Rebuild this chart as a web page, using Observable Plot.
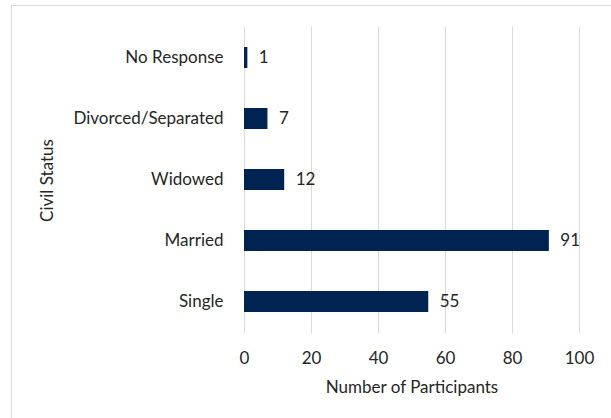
<!DOCTYPE html>
<html>
<head>
<meta charset="utf-8">
<script src="https://cdn.jsdelivr.net/npm/d3@7"></script>
<script src="https://cdn.jsdelivr.net/npm/@observablehq/plot@0.6"></script>
<style>
  html, body { margin: 0; padding: 0; background: #fff; }
  #wrap { position: relative; width: 611px; height: 418px; }
  #border { position: absolute; left: 11px; top: 5px; width: 620px; height: 430px; border-left: 1px solid #d9d9d9; border-top: 1px solid #d9d9d9; box-sizing: border-box; }
  #wrap svg { position: absolute; left: 0; top: 0; }
</style>
</head>
<body>
<div id="wrap"><div id="border"></div></div>
<script>
const categories = ["No Response", "Divorced/Separated", "Widowed", "Married", "Single"];
const counts = [1, 7, 12, 91, 55];
const xTicks = [0, 20, 40, 60, 80, 100];
const xTitle = "Number of Participants";
const yTitle = "Civil Status";

const data = categories.map((c, i) => ({status: c, count: counts[i]}));
const font = "Lato, 'Open Sans', sans-serif";
const textColor = "#262626";
const fs = 17;

const chart = Plot.plot({
  width: 611,
  height: 418,
  marginLeft: 244,
  marginRight: 32,
  marginTop: 27,
  marginBottom: 85,
  style: {fontFamily: font, fontSize: fs + "px", color: textColor, background: "transparent"},
  x: {domain: [0, 100], ticks: xTicks},
  y: {domain: categories, paddingInner: 0.65, paddingOuter: 0.325},
  marks: [
    Plot.gridX(xTicks, {stroke: "#d9d9d9", strokeOpacity: 1, strokeWidth: 1}),
    Plot.barX(data, {x: "count", y: "status", fill: "#002451"}),
    Plot.text(data, {x: "count", y: "status", text: d => String(d.count), textAnchor: "start", dx: 11, fill: textColor, fontSize: fs}),
    Plot.axisX(xTicks, {tickSize: 0, tickPadding: 18, label: null, fontSize: fs, fill: textColor}),
    Plot.axisY({tickSize: 0, tickPadding: 21, label: null, fontSize: fs, fill: textColor}),
    Plot.text([xTitle], {frameAnchor: "bottom", dy: 59, fontSize: fs, fill: textColor}),
    Plot.text([yTitle], {frameAnchor: "left", textAnchor: "middle", dx: -197, rotate: -90, fontSize: fs, fill: textColor})
  ]
});
document.getElementById("wrap").appendChild(chart);
</script>
</body>
</html>
